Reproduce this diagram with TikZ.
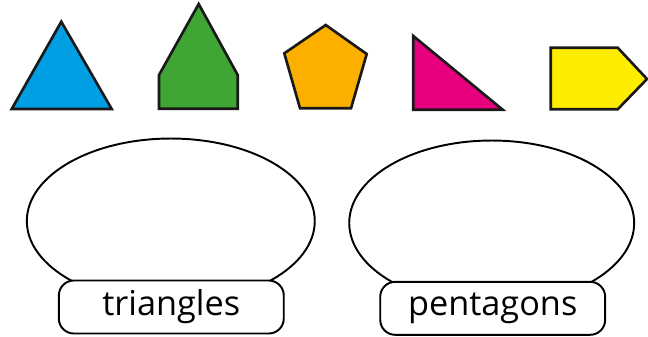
\documentclass[tikz,border=0pt]{standalone}
\usepackage{fontspec}
\setmainfont{Open Sans}
\usepackage{tikz}
\usetikzlibrary{shapes.geometric,positioning}

\definecolor{shapeblue}{RGB}{0,159,227}
\definecolor{shapegreen}{RGB}{63,165,53}
\definecolor{shapeorange}{RGB}{251,176,0}
\definecolor{shapepink}{RGB}{230,0,126}
\definecolor{shapeyellow}{RGB}{255,237,0}

\begin{document}
\begin{tikzpicture}[
  x=0.02cm, y=-0.02cm,
  flatshape/.style={draw=black!90, line width=1.5pt, line join=miter},
  sortset/.style={draw, ellipse, line width=1.1pt, minimum width=5.76cm, minimum height=3.3cm, inner sep=0pt},
  setlabel/.style={draw, fill=white, rectangle, rounded corners=0.3cm, line width=1.1pt,
    minimum width=4.5cm, minimum height=1.06cm, font=\fontsize{19.5}{22}\selectfont}
]
\useasboundingbox (0,0) rectangle (648,336);
% shapes to sort
\filldraw[flatshape, fill=shapeblue] (61.3,21.7) -- (111.7,109) -- (11.7,109) -- cycle;
\filldraw[flatshape, fill=shapegreen] (198.7,4) -- (237.7,75) -- (237.7,108.7) -- (159,108.7) -- (159,75) -- cycle;
\filldraw[flatshape, fill=shapeorange] (325.7,25) -- (366.7,54) -- (351,108.3) -- (300,108.3) -- (284.3,53.3) -- cycle;
\filldraw[flatshape, fill=shapepink] (413.3,36) -- (502.7,109.7) -- (413.3,109.7) -- cycle;
\filldraw[flatshape, fill=shapeyellow] (550.7,47.7) -- (617.7,47.7) -- (647,79) -- (617.7,109.3) -- (550.7,109.3) -- cycle;
% sorting sets
\node[sortset] (triset) at (170.8,221) {};
\node[sortset, minimum width=5.7cm] (pentset) at (491.7,223) {};
\node[setlabel] (trilabel) at (171.3,307) {triangles};
\node[setlabel] (pentlabel) at (492.7,308.3) {pentagons};
\end{tikzpicture}
\end{document}
